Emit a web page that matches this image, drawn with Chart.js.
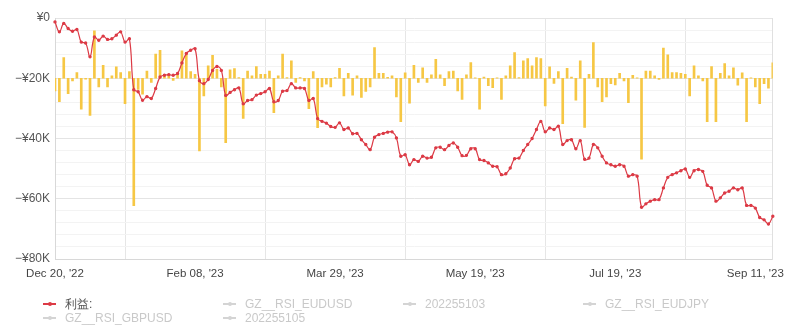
<!DOCTYPE html>
<html>
<head>
<meta charset="utf-8">
<script src="https://cdn.jsdelivr.net/npm/chart.js@4.4.0/dist/chart.umd.min.js"></script>
<style>
  html, body { margin: 0; padding: 0; background: #fff; }
  #wrap { position: relative; width: 792px; height: 336px; }
  #legend {
    position: absolute; left: 43px; top: 297px;
    display: grid; grid-template-columns: repeat(4, 180px);
    font: 12px "Liberation Sans", Arial, sans-serif;
  }
  .item { display: flex; align-items: center; height: 14px; cursor: pointer; white-space: nowrap; }
  .mark { position: relative; width: 13px; height: 1.5px; margin-right: 9px; }
  .mark i { position: absolute; left: 4.5px; top: -1.5px; width: 4px; height: 4px; border-radius: 50%; background: inherit; }
</style>
</head>
<body>
<div id="wrap">
  <canvas id="pnlChart" width="792" height="336"></canvas>
  <div id="legend"></div>
</div>
<script>
// cumulative profit, thousands of yen
const profitK = [
  -1.3, -4.6, -1.8, -3.5, -4.4, -3.8, -8.0, -8.3, -12.9, -6.3,
  -7.4, -6.0, -7.1, -6.9, -5.7, -4.6, -8.0, -6.9, -23.8, -24.5,
  -27.3, -26.1, -26.7, -23.4, -19.6, -19.0, -18.8, -19.0, -18.4, -14.9,
  -11.8, -10.7, -10.2, -20.8, -21.8, -20.4, -17.4, -16.1, -17.4, -25.7,
  -24.7, -23.8, -23.2, -28.5, -27.4, -27.1, -25.6, -25.1, -24.5, -23.4,
  -27.8, -27.4, -24.3, -24.1, -21.8, -23.2, -23.2, -23.4, -27.4, -26.7,
  -33.4, -34.3, -34.9, -36.0, -36.3, -34.8, -37.0, -36.5, -38.4, -38.3,
  -40.4, -42.0, -43.7, -39.6, -38.7, -38.3, -37.9, -37.8, -39.8, -45.9,
  -45.4, -48.7, -47.0, -47.6, -45.9, -46.5, -46.2, -43.1, -42.9, -43.7,
  -42.3, -41.5, -42.9, -45.7, -45.6, -43.4, -43.4, -47.0, -47.3, -48.1,
  -49.2, -49.4, -52.0, -51.7, -49.8, -46.7, -46.5, -44.0, -42.0, -40.0,
  -37.0, -34.3, -37.8, -36.5, -37.0, -35.9, -42.0, -40.7, -40.4, -43.4,
  -40.7, -46.9, -46.5, -42.0, -43.1, -45.9, -48.1, -48.7, -49.2, -48.7,
  -49.2, -52.5, -52.0, -52.5, -62.8, -61.7, -60.8, -60.3, -60.3, -56.4,
  -52.9, -52.0, -51.4, -50.7, -50.1, -52.9, -50.7, -50.3, -50.9, -55.5,
  -56.4, -60.8, -59.7, -58.1, -57.5, -56.4, -57.0, -56.4, -62.2, -62.2,
  -63.1, -66.2, -67.0, -68.4, -65.8
];

// daily result bars, secondary (hidden) axis
const dailyK = [
  -4.2, -7.8, 6.9, -5.1, -0.9, 1.9, -10.3, -0.3, -12.3, 15.7,
  -2.9, 4.3, -2.9, 0.8, 3.8, 1.9, -8.4, 2.2, -42.3, -3.7,
  -5.3, 2.4, -1.4, 8.0, 9.3, 1.3, 1.1, -0.7, 1.3, 9.1,
  8.5, 2.2, 1.3, -24.1, -5.9, 4.1, 7.6, 3.0, -2.9, -21.4,
  2.8, 3.2, 0.2, -13.3, 2.4, 0.8, 3.9, 1.3, 1.3, 2.4,
  -11.4, 0.8, 8.0, 0.2, 5.8, -1.4, 0.2, -0.9, -10.1, 2.2,
  -16.4, -2.9, -2.0, -2.9, 0.2, 3.3, -5.9, 1.6, -5.6, 0.8,
  -6.4, -4.4, -2.9, 10.2, 1.6, 1.6, 0.3, 0.8, -6.2, -14.4,
  1.8, -8.3, 4.3, -1.4, 3.5, -1.4, 1.1, 6.3, 1.1, -2.5,
  2.2, 2.4, -4.2, -7.0, 1.1, 5.2, 0.1, -10.3, 0.4, -2.5,
  -3.1, 0.1, -7.0, 0.8, 4.1, 8.5, 0.2, 5.8, 6.5, 4.1,
  6.9, 6.5, -9.2, 3.8, -1.7, 2.2, -15.1, 3.3, 0.4, -7.3,
  5.8, -16.3, 1.3, 11.8, -2.9, -7.8, -6.2, -1.8, -2.2, 1.6,
  -0.9, -8.1, 1.0, 0.1, -26.9, 2.4, 2.4, 0.8, -0.4, 10.0,
  7.8, 1.9, 1.9, 1.6, 1.3, -5.9, 4.1, 0.8, -0.9, -14.4,
  3.9, -14.4, 1.6, 4.9, 0.8, 3.5, -2.3, 1.8, -14.4, 0.1,
  -2.9, -8.4, -1.8, -3.3, 5.1
];

const tickAt = [0, 32, 64, 96, 128, 160];
const tickText = ["Dec 20, '22", "Feb 08, '23", "Mar 29, '23", "May 19, '23", "Jul 19, '23", "Sep 11, '23"];

const hiddenSeries = ['GZ__RSI_EUDUSD', '202255103', 'GZ__RSI_EUDJPY', 'GZ__RSI_GBPUSD', '202255105'];
const hiddenColors = ['#4e79a7', '#59a14f', '#9c755f', '#76b7b2', '#b07aa1'];

const days = profitK.map((_, i) => i);
const FONT = '"Liberation Sans", Arial, sans-serif';

const datasets = [
  {
    type: 'line',
    label: '利益:',
    data: profitK,
    yAxisID: 'y',
    borderColor: '#dc3a45',
    backgroundColor: '#dc3a45',
    borderWidth: 1.2,
    pointRadius: 1.1,
    pointHoverRadius: 3,
    tension: 0.4,
    order: 1,
    inLegend: true
  },
  ...hiddenSeries.map((name, k) => ({
    type: 'line',
    label: name,
    data: [],
    yAxisID: 'y',
    borderColor: hiddenColors[k],
    backgroundColor: hiddenColors[k],
    hidden: true,
    order: 1,
    inLegend: true
  })),
  {
    type: 'bar',
    label: 'daily',
    data: dailyK,
    yAxisID: 'y1',
    backgroundColor: '#f6c744',
    barThickness: 2,
    order: 2,
    inLegend: false
  }
];

// html legend in fixed columns
const htmlLegend = {
  id: 'htmlLegend',
  afterUpdate(chart) {
    const box = document.getElementById('legend');
    box.innerHTML = '';
    chart.data.datasets.forEach((ds, i) => {
      if (!ds.inLegend) return;
      const on = chart.isDatasetVisible(i);
      const item = document.createElement('div');
      item.className = 'item';
      const mark = document.createElement('span');
      mark.className = 'mark';
      mark.style.background = on ? ds.borderColor : '#d4d4d4';
      mark.appendChild(document.createElement('i'));
      const txt = document.createElement('span');
      txt.textContent = ds.label;
      txt.style.color = on ? '#555' : '#c9c9c9';
      item.append(mark, txt);
      item.onclick = () => {
        chart.setDatasetVisibility(i, !chart.isDatasetVisible(i));
        chart.update();
      };
      box.appendChild(item);
    });
  }
};

new Chart(document.getElementById('pnlChart'), {
  type: 'bar',
  data: { labels: days, datasets },
  plugins: [htmlLegend],
  options: {
    responsive: false,
    animation: false,
    layout: { padding: { top: 18, right: 8, left: 0, bottom: 0 } },
    plugins: {
      legend: { display: false },
      tooltip: { mode: 'index', intersect: false }
    },
    scales: {
      x: {
        type: 'category',
        offset: false,
        ticks: {
          autoSkip: false,
          maxRotation: 0,
          padding: 8,
          color: '#444',
          font: { family: FONT, size: 11.5 },
          callback: (v, i) => {
            const k = tickAt.indexOf(i);
            return k >= 0 ? tickText[k] : null;
          }
        },
        grid: { color: '#e6e6e6', drawTicks: false },
        border: { color: '#d8d8d8' },
        afterFit: s => { s.height = 77; }
      },
      y: {
        min: -80,
        max: 0,
        ticks: {
          stepSize: 4,
          autoSkip: false,
          padding: 5,
          color: '#555',
          font: { family: FONT, size: 12 },
          callback: v => {
            if (v % 20 !== 0) return '';
            return v < 0 ? '\u2212¥' + (-v) + 'K' : '¥0';
          }
        },
        grid: {
          drawTicks: false,
          color: ctx => (ctx.tick.value % 20 === 0 ? '#e4e4e4' : '#f3f3f3')
        },
        border: { color: '#d8d8d8' },
        afterFit: s => { s.width = 55; }
      },
      y1: {
        position: 'right',
        min: -60,
        max: 20,
        ticks: { display: false },
        grid: { display: false },
        border: { color: '#e0e0e0' },
        afterFit: s => { s.width = 0; }
      }
    }
  }
});
</script>
</body>
</html>
